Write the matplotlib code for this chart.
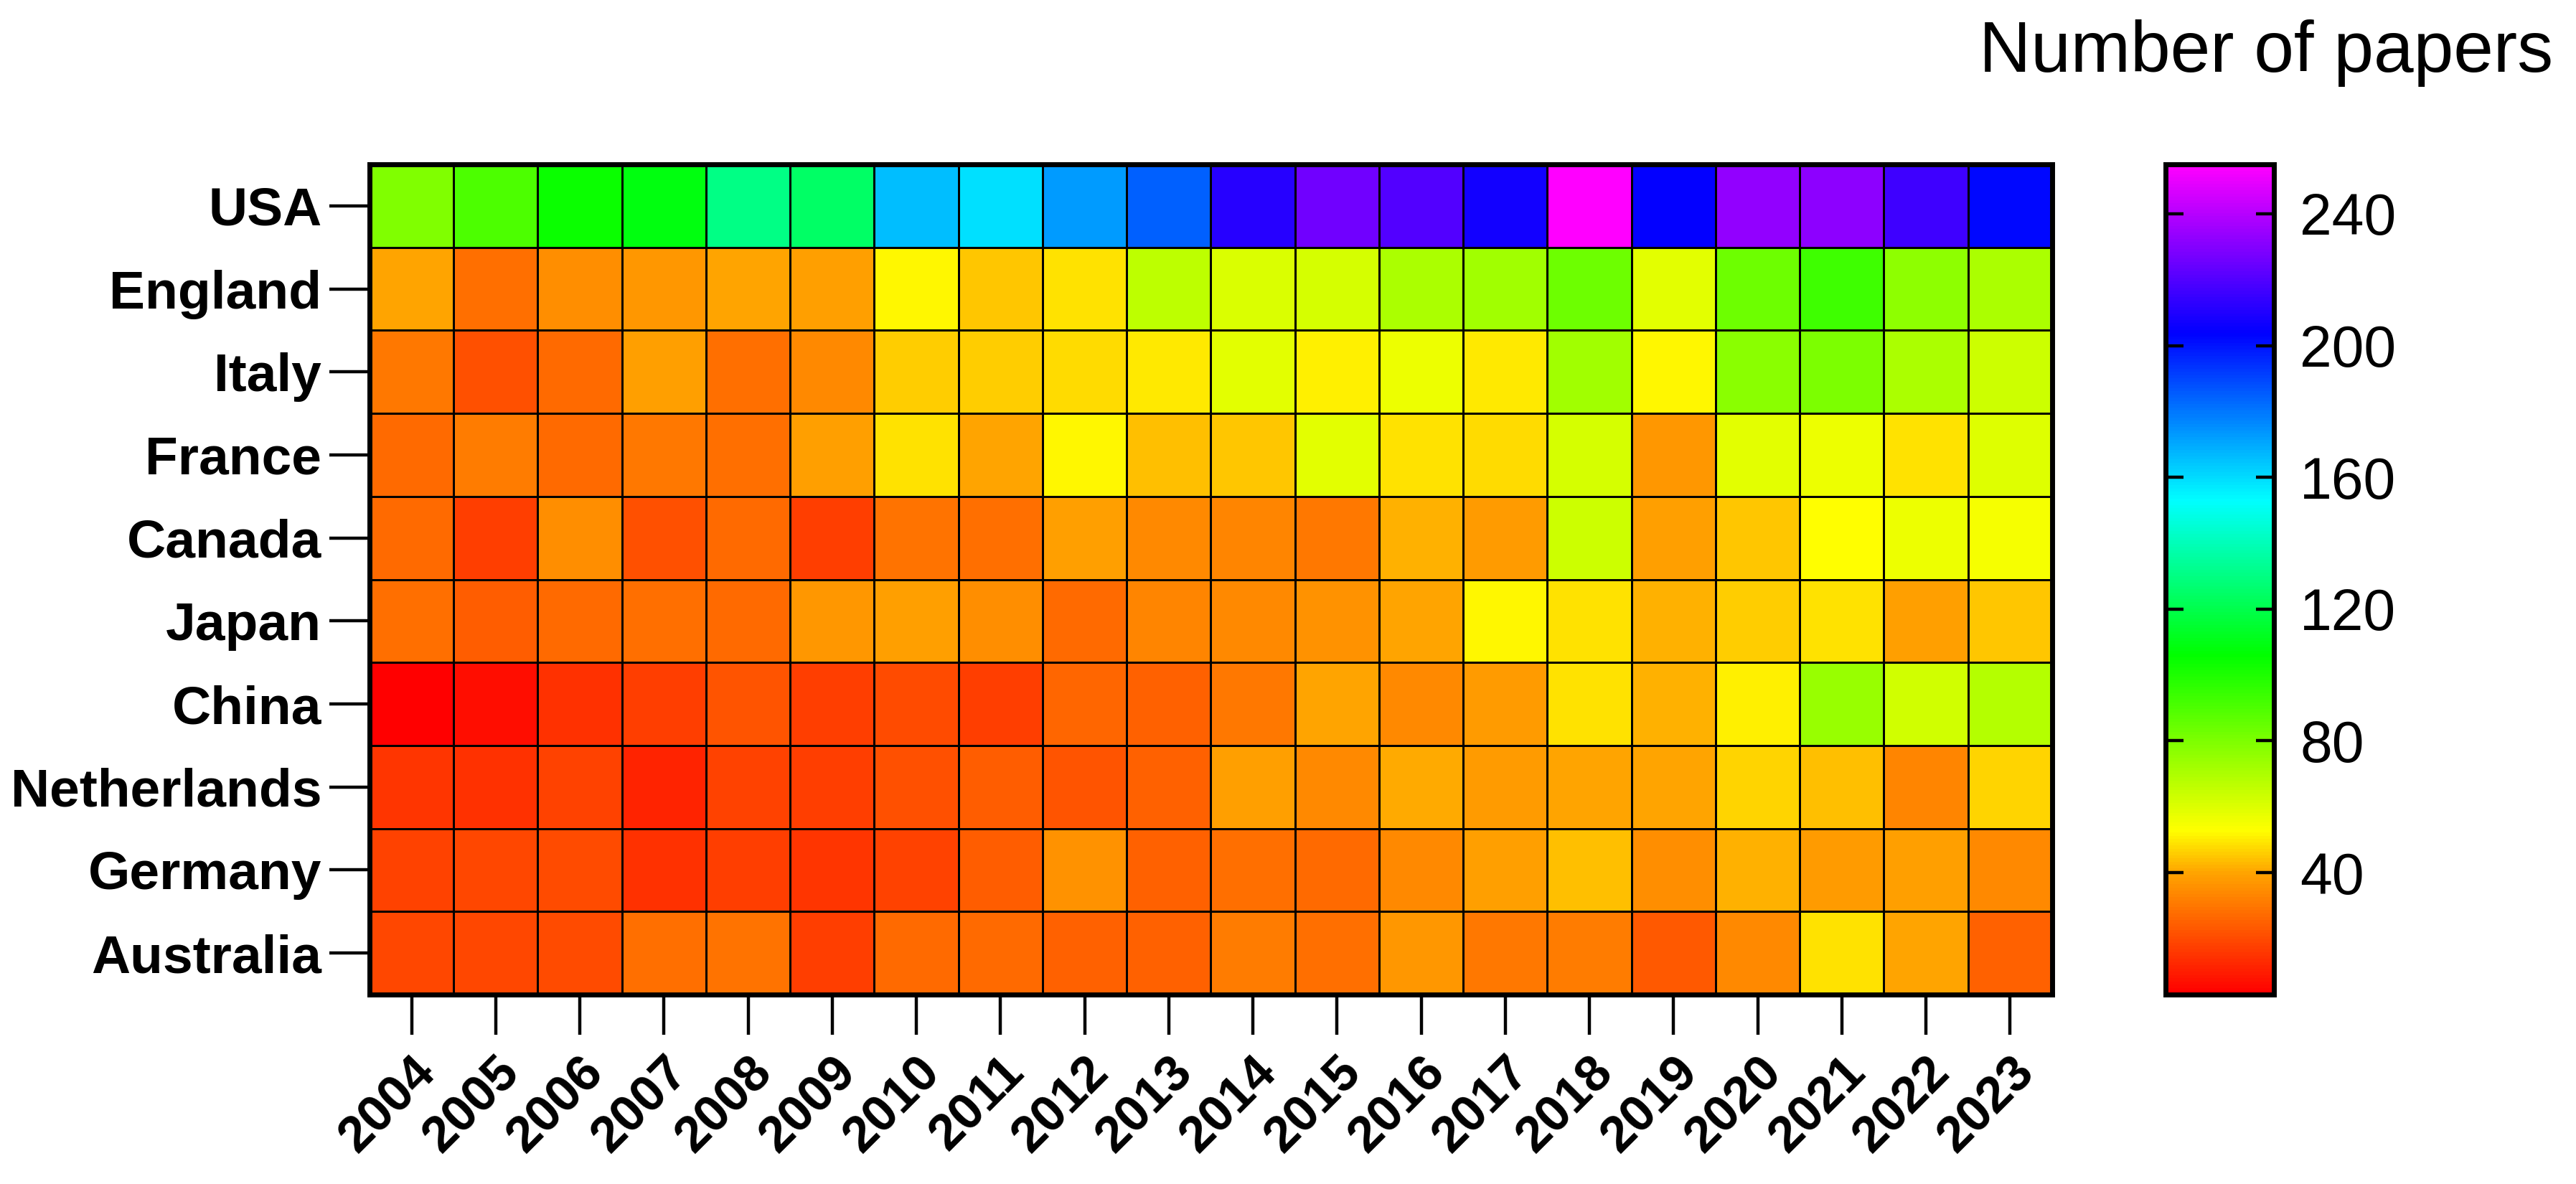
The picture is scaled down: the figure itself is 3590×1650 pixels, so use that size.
import numpy as np
import matplotlib
matplotlib.use("Agg")
import matplotlib.pyplot as plt
from matplotlib.colors import LinearSegmentedColormap, Normalize

plt.rcParams["font.family"] = ["Liberation Sans", "DejaVu Sans"]

# ---------------------------------------------------------------------------
# Datos
# ---------------------------------------------------------------------------
anios = [str(a) for a in range(2004, 2024)]
paises = ["USA", "England", "Italy", "France", "Canada",
          "Japan", "China", "Netherlands", "Germany", "Australia"]

usa = [79, 90, 104, 109, 130, 125, 166, 159, 173, 185,
       211, 226, 220, 207, 255, 204, 233, 232, 216, 202]
england = [40, 28, 35, 37, 40, 39, 52, 45, 49, 66,
           61, 62, 70, 72, 83, 59, 83, 93, 76, 70]
italy = [30, 21, 27, 39, 28, 34, 46, 46, 48, 50,
         59, 51, 57, 50, 72, 52, 77, 80, 70, 64]
france = [27, 31, 27, 30, 28, 39, 49, 40, 52, 44,
          45, 59, 49, 48, 62, 37, 59, 57, 49, 60]
canada = [27, 17, 35, 21, 27, 17, 29, 28, 39, 34,
          33, 30, 42, 38, 64, 39, 45, 53, 57, 55]
japan = [28, 24, 27, 28, 27, 37, 39, 35, 27, 33,
         34, 36, 40, 52, 49, 42, 46, 49, 39, 45]
china = [3, 6, 14, 17, 22, 17, 20, 17, 26, 25,
         30, 40, 34, 38, 49, 42, 51, 74, 63, 68]
netherlands = [15, 14, 18, 11, 18, 17, 21, 24, 22, 25,
               39, 34, 41, 38, 40, 40, 47, 44, 33, 47]
germany = [18, 19, 20, 14, 17, 15, 18, 24, 36, 25,
           28, 27, 34, 39, 44, 35, 42, 38, 39, 34]
australia = [19, 19, 20, 28, 29, 17, 27, 27, 25, 25,
             31, 28, 37, 30, 31, 23, 34, 49, 40, 25]

filas = [usa, england, italy, france, canada,
         japan, china, netherlands, germany, australia]
matriz = np.array(filas, dtype=float)

VMIN, VMAX = 3, 255
ticks_barra = [40, 80, 120, 160, 200, 240]

# ---------------------------------------------------------------------------
# Mapa de color tipo "rainbow" (rojo -> magenta)
# ---------------------------------------------------------------------------
def pos(v):
    return (v - VMIN) / (VMAX - VMIN)

arcoiris = LinearSegmentedColormap.from_list("arcoiris", [
    (0.0, (1, 0, 0)),
    (pos(40), (1, 0.65, 0)),
    (pos(52.5), (1, 1, 0)),
    (pos(106), (0, 1, 0)),
    (pos(153), (0, 1, 1)),
    (pos(204), (0, 0, 1)),
    (1.0, (1, 0, 1)),
])
norma = Normalize(vmin=VMIN, vmax=VMAX)

# ---------------------------------------------------------------------------
# Figura
# ---------------------------------------------------------------------------
fig = plt.figure(figsize=(35.91, 16.5), dpi=100)
ax = fig.add_axes([0.1434, 0.16, 0.653, 0.7012])
cax = fig.add_axes([0.8405, 0.16, 0.042, 0.7012])

malla = ax.pcolormesh(matriz, cmap=arcoiris, norm=norma,
                      edgecolors="black", linewidth=1.8)
ax.set_xlim(0, len(anios))
ax.set_ylim(len(paises), 0)

ax.set_xticks(np.arange(len(anios)) + 0.5)
ax.set_xticklabels(anios, rotation=45, ha="right", va="top",
                   rotation_mode="anchor", fontsize=51, fontweight="bold")
ax.set_yticks(np.arange(len(paises)) + 0.5)
ax.set_yticklabels(paises, fontsize=54, fontweight="bold")
ax.tick_params(axis="both", length=40, width=3.2, direction="out", pad=8)
ax.tick_params(axis="x", pad=14)
for s in ax.spines.values():
    s.set_linewidth(5)

barra = fig.colorbar(malla, cax=cax, ticks=ticks_barra)
barra.outline.set_linewidth(5)
cax.tick_params(axis="y", direction="in", length=18, width=3.2,
                labelsize=58, pad=26, left=True, right=True)

fig.text(0.8795, 0.955, "Number of papers", fontsize=72,
         ha="center", va="center")

fig.savefig("out.png", dpi=100)
